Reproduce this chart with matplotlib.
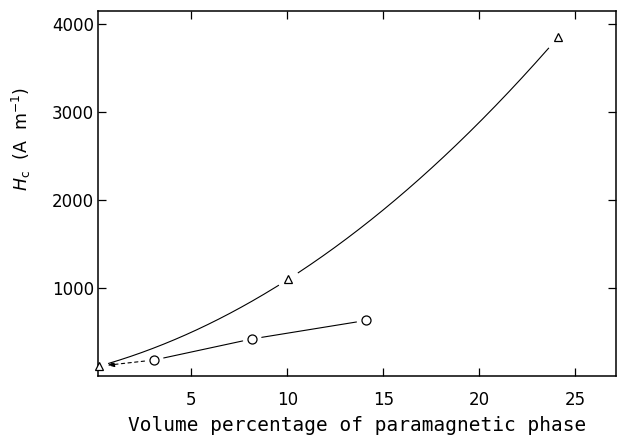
import numpy as np
import matplotlib
matplotlib.use("Agg")
from matplotlib import pyplot as plt

# data
tri_x = [0.2, 10.06, 24.1]      # triangles
tri_y = [110, 1100, 3850]
circ_x = [3.07, 8.17, 14.1]     # circles
circ_y = [180, 420, 630]

x_ticks = [5, 10, 15, 20, 25]
y_ticks = [1000, 2000, 3000, 4000]

plt.rcParams['font.family'] = 'DejaVu Sans'

fig = plt.figure(figsize=(6.17, 4.36), dpi=100)
ax = fig.add_axes([0.159, 0.138, 0.839, 0.837])

# smooth curve through the triangles, with gaps around the markers
coef = np.polyfit(tri_x, tri_y, 2)
xs = np.linspace(0.7, 23.6, 400)
ys = np.polyval(coef, xs)
ys[np.abs(xs - tri_x[1]) < 0.5] = np.nan
ax.plot(xs, ys, color='black', lw=0.8)

# straight segments between circles, gapped at the markers
for i in range(len(circ_x) - 1):
    ax.annotate('', xy=(circ_x[i + 1], circ_y[i + 1]), xytext=(circ_x[i], circ_y[i]),
                arrowprops=dict(arrowstyle='-', color='black', lw=0.8, shrinkA=7, shrinkB=7))
# dashed arrow back to the first triangle
ax.annotate('', xy=(tri_x[0], tri_y[0]), xytext=(circ_x[0], circ_y[0]),
            arrowprops=dict(arrowstyle='-|>,head_length=0.4,head_width=0.15', color='black',
                            lw=0.8, linestyle=(0, (3, 3)), shrinkA=7, shrinkB=6))

ax.plot(tri_x, tri_y, ls='none', marker='^', ms=6, mfc='white', mec='black', mew=0.9, clip_on=False, zorder=5)
ax.plot(circ_x, circ_y, ls='none', marker='o', ms=6.5, mfc='white', mec='black', mew=0.9, clip_on=False, zorder=5)

ax.set_xlim(0.15, 27.1)
ax.set_ylim(0, 4150)
ax.set_xticks(x_ticks)
ax.set_yticks(y_ticks)
ax.tick_params(direction='in', length=5.5, width=0.9, top=True, right=True, labelsize=12)
ax.tick_params(axis='x', pad=11)
ax.tick_params(axis='y', pad=3)
for s in ax.spines.values():
    s.set_linewidth(1.1)

ax.set_xlabel('Volume percentage of paramagnetic phase', family='DejaVu Sans Mono', fontsize=14, labelpad=5)
ax.set_ylabel(r'$H_{\mathrm{c}}$  (A  m$^{-1}$)', fontsize=12.5)
ax.yaxis.set_label_coords(-0.125, 0.65)

fig.savefig('out.png', dpi=100)
